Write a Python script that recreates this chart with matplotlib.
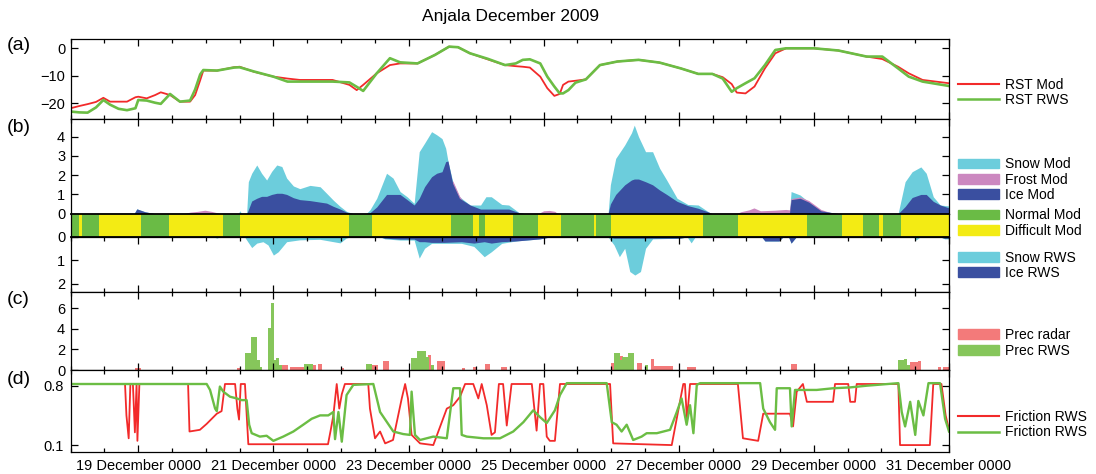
import matplotlib
matplotlib.use('Agg')
import matplotlib.pyplot as plt
import matplotlib.dates as mdates
from matplotlib.patches import Patch
from matplotlib.lines import Line2D
import numpy as np
import pandas as pd

plt.rcParams['font.family'] = ['Liberation Sans', 'DejaVu Sans']

START = pd.Timestamp('2009-12-18 00:00')
END = pd.Timestamp('2009-12-31 00:00')

# (a) road surface temperature, hours from 18 Dec 00 UTC
rst_hours = [0, 3, 6, 9, 11.6, 14, 17, 20, 23, 24, 27, 30, 32, 35.3, 38.8, 42.4, 44.2, 46, 47.1, 52,
             58, 60, 65, 72, 77, 81.4, 93, 99, 101.6, 103.9, 108.7, 113.4, 117, 123.2, 129.4, 134.4,
             137.6, 141.8, 148.1, 154.3, 158.1, 160.6, 163.1, 166.8, 169.3, 171.8, 173.7, 174.9,
             176.8, 179.3, 183, 188, 194.2, 201.7, 209.2, 216.7, 222.9, 227.9, 231.6, 234.8, 236.6,
             239.7, 242.9, 246.6, 250.3, 254.1, 264, 272.7, 282.7, 288.3, 293.9, 297.7, 302.6, 312]
rst_mod = [-21.8, -21.0, -20.3, -19.5, -18.0, -19.4, -19.4, -19.4, -17.8, -17.6, -18.2, -17.0, -16.0,
           -17.0, -19.4, -19.4, -17.0, -11.6, -8.1, -8.1, -6.9, -6.7, -8.5, -10.3, -11.0, -11.5, -11.5,
           -13.3, -15.2, -13.3, -9.1, -6.1, -5.5, -5.5, -2.4, 0.6, 0.4, -1.8, -4.0, -6.1, -6.5, -6.7,
           -7.0, -10.3, -14.5, -17.3, -16.6, -13.3, -12.1, -11.8, -11.3, -6.1, -4.8, -4.2, -5.2, -7.3,
           -9.3, -9.3, -10.5, -13.0, -16.1, -16.4, -13.9, -7.3, -1.8, 0.0, 0.0, -0.8, -3.0, -3.9, -6.7,
           -9.1, -11.5, -12.7]
rst_rws = [-23.0, -23.3, -23.4, -21.5, -18.8, -20.5, -22.0, -22.5, -21.8, -18.8, -19.0, -19.8, -20.2,
           -16.6, -19.4, -19.0, -15.0, -9.5, -7.9, -8.1, -7.0, -6.9, -8.4, -10.3, -12.1, -12.1, -12.1,
           -12.4, -14.0, -15.5, -9.1, -3.6, -5.1, -5.5, -2.4, 0.6, 0.4, -1.8, -3.8, -6.1, -5.5, -4.2,
           -4.0, -5.5, -10.3, -13.9, -16.4, -16.4, -15.2, -12.5, -11.3, -6.1, -4.8, -4.2, -5.2, -7.3,
           -9.3, -9.3, -11.0, -15.8, -14.5, -12.7, -10.9, -6.1, -0.6, 0.0, 0.0, -0.8, -3.0, -3.0, -7.3,
           -10.3, -12.1, -13.7]

# (b) model storages (mm water)
mod_hours = [0, 22.5, 23.5, 26.4, 28.9, 30, 59.5, 60.1, 60.7, 62.5, 63.1, 64.3, 66.1, 67.8, 69.6, 71.4,
             73.2, 75, 76.7, 79.1, 81.4, 85, 88.6, 90.9, 93.3, 95.7, 98, 100.4, 104.9, 106.3, 108.7,
             112.2, 114.5, 117, 119.5, 122, 123.8, 125.7, 128.2, 130, 131.9, 133.2, 134, 135.7, 138.1,
             141.9, 145.6, 147.5, 149.4, 153.1, 155.6, 159.3, 161.4, 190.9, 191.7, 193.6, 196.8, 199.2,
             200.2, 201.7, 204.2, 206.7, 209.2, 211.7, 215.4, 219.2, 222.9, 226.7, 227.8, 255.3, 255.9,
             259.1, 262.2, 266.5, 271.5, 273, 293.9, 296.4, 298.9, 302, 303.9, 306.4, 308.9, 312]
snow_mod = [0, 0, 0.25, 0.1, 0.03, 0, 0, 0.15, 0, 0, 1.66, 2.1, 2.53, 2.1, 1.75, 2.2, 2.53, 2.45, 1.85,
            1.44, 1.3, 1.47, 1.4, 1.06, 0.7, 0.38, 0.12, 0, 0, 0.2, 0.8, 2.1, 1.85, 1.15, 0.88, 0.54,
            3.22, 3.66, 4.26, 4.1, 3.9, 3.4, 2.74, 1.66, 0.88, 0.45, 0.45, 0.88, 0.88, 0.48, 0.45, 0.05,
            0, 0, 1.5, 2.87, 3.57, 4.2, 4.6, 4.0, 3.22, 3.22, 2.36, 1.75, 0.8, 0.48, 0.45, 0.08, 0, 0,
            1.15, 0.97, 0.6, 0.15, 0.03, 0, 0, 1.66, 2.18, 2.43, 2.1, 0.88, 0.45, 0.4]
ice_mod = [0, 0, 0.25, 0.1, 0.03, 0, 0, 0, 0, 0, 0.2, 0.66, 0.8, 0.9, 0.9, 1.0, 1.06, 1.06, 1.0, 0.83,
           0.73, 0.68, 0.6, 0.55, 0.38, 0.24, 0.08, 0, 0, 0.05, 0.35, 1.0, 1.0, 1.0, 0.73, 0.45, 0.8,
           1.4, 1.92, 2.1, 2.18, 2.7, 2.74, 1.57, 0.8, 0.45, 0.24, 0.24, 0.24, 0.24, 0.24, 0.05, 0, 0,
           0.5, 1.0, 1.5, 1.75, 1.8, 1.8, 1.66, 1.5, 1.23, 1.0, 0.64, 0.42, 0.28, 0.08, 0, 0, 0.73,
           0.8, 0.6, 0.15, 0.03, 0, 0, 0.37, 0.84, 1.0, 1.0, 0.64, 0.45, 0.3]
frost_hours = [0, 40, 42.4, 45, 47.7, 50, 52, 53, 134, 135.7, 138.1, 141, 143, 166, 168, 170, 172, 173,
               236.5, 238, 241, 242.7, 245, 250, 254, 255.3, 255.9, 259.1, 262.2, 266.5, 270, 273, 312]
frost_mod = [0, 0, 0.08, 0.12, 0.18, 0.12, 0.05, 0, 0, 1.72, 0.92, 0.3, 0, 0, 0.15, 0.17, 0.12, 0,
             0, 0.1, 0.2, 0.3, 0.15, 0.18, 0.22, 0.2, 0.78, 0.87, 0.68, 0.22, 0.05, 0, 0]

# road condition class of the model: start hour of each period
state_start = [0, 3, 4, 10, 25, 35, 54, 60, 99, 107, 135, 143, 145, 147, 157, 166, 174, 186, 186.5,
               192, 224.5, 237, 261.5, 274, 281.5, 287, 288.7, 295]
state_class = ['N', 'D', 'N', 'D', 'N', 'D', 'N', 'D', 'N', 'D', 'N', 'D', 'N', 'D', 'N', 'D', 'N',
               'D', 'N', 'D', 'N', 'D', 'N', 'D', 'N', 'D', 'N', 'D']

# road weather station storages
rws_hours = [0, 51, 51.9, 52.8, 61.8, 62.5, 64.3, 66.1, 68.3, 70.1, 72, 73.7, 76.7, 81.4, 88.6, 95.7,
             97.8, 99.2, 110, 111.6, 117, 122, 123.8, 125.7, 128.2, 132.6, 138.8, 143.2, 146.9, 149.4,
             153.1, 158.1, 166.7, 170.2, 190.9, 193, 194.9, 196.8, 198.6, 200.4, 202.4, 204.2, 206.7,
             216.4, 219, 220.4, 221.8, 245.5, 246.6, 251.6, 253, 255, 255.9, 257.7, 299.5, 300.3,
             301.7, 309, 310.5, 312]
snow_rws = [0, 0, 0.05, 0, 0, 0.13, 0.45, 0.26, 0.2, 0.34, 0.77, 0.63, 0.2, 0.12, 0.1, 0.25, 0.05, 0,
            0, 0.08, 0.13, 0.13, 0.9, 0.48, 0.27, 0.27, 0.27, 0.4, 0.84, 0.63, 0.27, 0.17, 0.08, 0, 0,
            0.34, 0.84, 0.48, 1.47, 1.62, 1.47, 0.48, 0.08, 0.05, 0, 0.25, 0, 0, 0.17, 0.17, 0, 0, 0.26,
            0, 0, 0.13, 0, 0, 0.08, 0.08]
ice_rws = [0, 0, 0, 0, 0, 0, 0, 0, 0, 0, 0, 0, 0, 0, 0, 0.02, 0, 0, 0, 0.05, 0.09, 0.09, 0.2, 0.2, 0.23,
           0.23, 0.2, 0.26, 0.2, 0.26, 0.2, 0.17, 0.08, 0, 0, 0.05, 0.05, 0.05, 0.05, 0.05, 0.05, 0.05,
           0.05, 0.05, 0, 0, 0, 0, 0.17, 0.17, 0, 0, 0.26, 0, 0, 0, 0, 0, 0.05, 0.05]

# (c) hourly precipitation (mm), nonzero hours only
radar_hours = [23, 24, 59, 66, 72, 75, 76, 78, 79, 80, 81, 82, 86, 88, 96, 107, 108, 111, 112, 124,
               125, 127, 130, 131, 132, 139, 143, 147, 148, 153, 154, 192, 195, 201, 202, 206, 207,
               208, 209, 210, 211, 212, 213, 219, 220, 221, 256, 257, 298, 299, 300, 301, 308, 310, 311]
radar_mm = [0.2, 0.2, 0.2, 0.9, 0.8, 0.5, 0.5, 0.3, 0.3, 0.3, 0.3, 0.3, 0.5, 0.55, 0.15, 0.5, 0.5, 0.9,
            0.9, 1.85, 1.85, 1.45, 0.9, 0.9, 0.9, 0.15, 0.3, 0.55, 0.55, 0.3, 0.3, 0.65, 1.4, 0.65,
            0.65, 1.07, 0.35, 0.35, 0.35, 0.35, 0.35, 0.35, 0.35, 0.3, 0.3, 0.3, 0.55, 0.55, 0.8, 0.8,
            0.8, 0.9, 0.25, 0.25, 0.25]
prec_rws_hours = [62, 63, 64, 65, 66, 67, 70, 71, 72, 73, 74, 83, 84, 85, 105, 106, 121, 122, 123,
                  124, 125, 126, 128, 193, 194, 195, 196, 197, 198, 199, 204, 294, 295, 296, 297]
prec_rws_mm = [1.63, 1.63, 3.2, 3.2, 1.0, 0.3, 4.07, 6.5, 1.0, 1.2, 0.5, 0.55, 0.55, 0.55, 0.55, 0.55,
               1.2, 1.2, 1.85, 1.85, 1.85, 1.3, 0.5, 1.63, 1.63, 1.0, 1.3, 1.3, 1.63, 1.63, 0.5, 1.0,
               1.0, 1.07, 0.5]

# (d) friction
fric_red_hours = [0, 19.3, 19.8, 20.6, 21.2, 22.1, 22.8, 23.4, 23.7, 24.4, 41.7, 42.2, 45.9, 48.3, 51.9,
                  53.6, 54.8, 58.4, 59.2, 59.8, 60.4, 61.9, 63.1, 91.4, 92.5, 93.3, 94.5, 95.4, 96.3,
                  97.4, 105.7, 106.3, 108.1, 109.9, 111.7, 114.5, 117.6, 118.8, 119.8, 121.1, 124.1,
                  128.8, 133.6, 135.9, 138.3, 140.1, 143, 144.8, 146, 147.8, 149.5, 150.7, 152.1,
                  153.6, 154.9, 156.6, 163.8, 165.5, 166.7, 167.9, 169.1, 170.2, 172, 173.8, 191.6,
                  192.7, 213.5, 217.6, 218.2, 218.9, 220, 237, 238.8, 244.2, 246, 255.5, 256.6, 257.9,
                  260.1, 261.5, 270.8, 271.5, 276.2, 276.9, 278.6, 279.2, 294, 294.6, 305.2, 306.4,
                  309.3, 310.8, 312]
fric_red = [0.82, 0.82, 0.45, 0.18, 0.82, 0.82, 0.25, 0.82, 0.15, 0.82, 0.82, 0.26, 0.28, 0.35, 0.47,
            0.5, 0.82, 0.82, 0.53, 0.4, 0.82, 0.82, 0.11, 0.11, 0.3, 0.45, 0.82, 0.53, 0.7, 0.82, 0.82,
            0.53, 0.18, 0.26, 0.12, 0.16, 0.65, 0.82, 0.65, 0.22, 0.12, 0.1, 0.53, 0.57, 0.67, 0.82,
            0.82, 0.65, 0.82, 0.57, 0.22, 0.25, 0.82, 0.82, 0.33, 0.82, 0.82, 0.27, 0.82, 0.82, 0.2,
            0.15, 0.15, 0.82, 0.82, 0.12, 0.1, 0.82, 0.82, 0.4, 0.82, 0.82, 0.18, 0.15, 0.47, 0.47,
            0.32, 0.73, 0.82, 0.61, 0.61, 0.82, 0.82, 0.61, 0.61, 0.82, 0.82, 0.1, 0.1, 0.82, 0.82,
            0.45, 0.28]
fric_green_hours = [0, 48.3, 49.5, 51.3, 51.9, 53, 54.2, 56.6, 59, 60.7, 62.5, 63.4, 64.3, 67.2, 69.6,
                    72, 75.5, 79.1, 82.6, 85.6, 88.6, 91.5, 93.3, 93.9, 95.1, 96.3, 98, 100.4, 107.5,
                    109.9, 114.6, 118.1, 120.5, 121.1, 122.3, 124.1, 128.8, 133.6, 135.9, 138.3,
                    138.9, 140.7, 146.6, 152.5, 157.2, 160.8, 164.3, 166.7, 169.1, 172, 173.8, 176.2,
                    190.4, 192.2, 193.9, 195.7, 197.5, 199.8, 202.8, 204.6, 208.2, 212.9, 215.3, 217,
                    218.8, 220, 221.2, 222.4, 223.6, 244.9, 246, 248.4, 250.2, 250.8, 255.5, 256.1,
                    257.3, 265, 270.9, 276.9, 282.8, 294, 295.2, 296.4, 298.2, 300, 301.1, 302.9,
                    304.7, 308.8, 310.6, 312]
fric_green = [0.82, 0.82, 0.75, 0.53, 0.5, 0.79, 0.73, 0.67, 0.65, 0.63, 0.63, 0.34, 0.24, 0.2, 0.21,
              0.15, 0.2, 0.26, 0.34, 0.41, 0.45, 0.45, 0.49, 0.17, 0.49, 0.14, 0.69, 0.81, 0.82, 0.49,
              0.26, 0.23, 0.22, 0.73, 0.22, 0.16, 0.2, 0.18, 0.77, 0.77, 0.22, 0.2, 0.18, 0.18, 0.26,
              0.37, 0.51, 0.43, 0.36, 0.51, 0.69, 0.83, 0.83, 0.37, 0.34, 0.26, 0.34, 0.16, 0.2, 0.24,
              0.24, 0.28, 0.49, 0.65, 0.34, 0.57, 0.24, 0.81, 0.83, 0.83, 0.53, 0.37, 0.28, 0.77, 0.77,
              0.32, 0.75, 0.75, 0.77, 0.78, 0.8, 0.83, 0.49, 0.32, 0.61, 0.22, 0.62, 0.45, 0.83, 0.83,
              0.41, 0.26]

RED = '#f22a2a'
GREEN = '#6bbd44'
SNOW = '#6ccddc'
FROST = '#cc88c0'
ICE = '#3a4fa0'
NORMAL = '#6abb45'
DIFFICULT = '#f3eb14'
RADAR = '#f37a7a'
PREC_RWS = '#86c65b'


def t(hours):
    return START + pd.to_timedelta(np.asarray(hours, dtype=float), unit='h')


def style(ax, top=True, bottom=True):
    ax.set_xlim(START, END)
    ax.xaxis.set_major_locator(mdates.DayLocator(bymonthday=[19, 21, 23, 25, 27, 29, 31]))
    ax.xaxis.set_minor_locator(mdates.HourLocator(byhour=[0, 12]))
    ax.tick_params(which='both', direction='in', top=top, bottom=bottom, right=True,
                   labelbottom=False, labelsize=10.5, width=0.9, pad=4)
    ax.tick_params(which='major', length=5)
    ax.tick_params(which='minor', length=3)
    for s in ax.spines.values():
        s.set_linewidth(0.9)


def side_legend(ax, handles, labels, yc):
    ax.legend(handles, labels, loc='center left', bbox_to_anchor=(958 / 1096, yc),
              bbox_transform=fig.transFigure, frameon=False, fontsize=10, handlelength=2.95,
              handletextpad=0.45, labelspacing=0.1, borderpad=0, borderaxespad=0)


fig = plt.figure(figsize=(10.96, 4.74), dpi=100)
L, W = 0.0645, 0.8014
ax_a = fig.add_axes([L, 0.749, W, 0.1688])
ax_bu = fig.add_axes([L, 0.5492, W, 0.1998])
ax_bs = fig.add_axes([L, 0.5, W, 0.0492])
ax_bl = fig.add_axes([L, 0.3846, W, 0.1154])
ax_c = fig.add_axes([L, 0.2194, W, 0.1652])
ax_d = fig.add_axes([L, 0.0458, W, 0.1736])

# (a)
ax_a.plot(t(rst_hours), rst_mod, color=RED, lw=1.3)
ax_a.plot(t(rst_hours), rst_rws, color=GREEN, lw=1.9)
ax_a.set_ylim(-25.7, 3.4)
ax_a.set_yticks([-20, -10, 0])
style(ax_a)
side_legend(ax_a, [Line2D([], [], color=RED, lw=1.5), Line2D([], [], color=GREEN, lw=1.8)],
            ['RST Mod', 'RST RWS'], 1 - 92.5 / 474)

# (b) model storages above the status bar
tm = t(mod_hours)
ax_bu.fill_between(tm, 0, snow_mod, color=SNOW, lw=0)
ax_bu.fill_between(t(frost_hours), 0, frost_mod, color=FROST, lw=0)
ax_bu.fill_between(tm, 0, ice_mod, color=ICE, lw=0)
ax_bu.set_ylim(0, 4.92)
ax_bu.set_yticks([0, 1, 2, 3, 4])
style(ax_bu, bottom=False)
side_legend(ax_bu, [Patch(color=SNOW), Patch(color=FROST), Patch(color=ICE)],
            ['Snow Mod', 'Frost Mod', 'Ice Mod'], 1 - 179.8 / 474)

# road condition bar
ends = state_start[1:] + [312]
for h0, h1, cls in zip(state_start, ends, state_class):
    ax_bs.axvspan(t([h0])[0], t([h1])[0], color=NORMAL if cls == 'N' else DIFFICULT, lw=0)
ax_bs.set_xlim(START, END)
ax_bs.set_ylim(0, 1)
ax_bs.set_xticks([])
ax_bs.set_yticks([])
for name, s in ax_bs.spines.items():
    s.set_linewidth(1.3 if name in ('top', 'bottom') else 0.9)
side_legend(ax_bs, [Patch(color=NORMAL), Patch(color=DIFFICULT)],
            ['Normal Mod', 'Difficult Mod'], 1 - 223 / 474)

# station storages below the bar (downwards)
tr = t(rws_hours)
ax_bl.fill_between(tr, 0, snow_rws, color=SNOW, lw=0)
ax_bl.fill_between(tr, 0, ice_rws, color=ICE, lw=0)
ax_bl.set_ylim(2.33, 0)
ax_bl.set_yticks([0, 1, 2])
style(ax_bl)
side_legend(ax_bl, [Patch(color=SNOW), Patch(color=ICE)], ['Snow RWS', 'Ice RWS'], 1 - 265.3 / 474)

# (c)
ax_c.bar(t(radar_hours), radar_mm, width=1.1 / 24, align='edge', color=RADAR, lw=0)
ax_c.bar(t(prec_rws_hours), prec_rws_mm, width=1.1 / 24, align='edge', color=PREC_RWS, lw=0)
ax_c.set_ylim(0, 7.6)
ax_c.set_yticks([0, 2, 4, 6])
style(ax_c)
side_legend(ax_c, [Patch(color=RADAR), Patch(color=PREC_RWS)], ['Prec radar', 'Prec RWS'],
            1 - 342.9 / 474)

# (d)
ax_d.plot(t(fric_red_hours), fric_red, color=RED, lw=1.3)
ax_d.plot(t(fric_green_hours), fric_green, color=GREEN, lw=1.7)
ax_d.set_ylim(0.015, 0.985)
ax_d.set_yticks([0.1, 0.8])
ax_d.set_yticklabels(['0.1', '0.8'])
style(ax_d)
ax_d.tick_params(labelbottom=True, pad=5)
ax_d.xaxis.set_major_formatter(mdates.DateFormatter('%d December %H%M'))
side_legend(ax_d, [Line2D([], [], color=RED, lw=1.5), Line2D([], [], color=GREEN, lw=1.8)],
            ['Friction RWS', 'Friction RWS'], 1 - 424.7 / 474)

fig.text(510 / 1096, 1 - 17 / 474, 'Anjala December 2009', ha='center', va='center', fontsize=12.5)
for lab, yc in [('(a)', 46), ('(b)', 127), ('(c)', 300), ('(d)', 379)]:
    fig.text(7 / 1096, 1 - yc / 474, lab, ha='left', va='center', fontsize=14)

fig.savefig('out.png', dpi=100)
